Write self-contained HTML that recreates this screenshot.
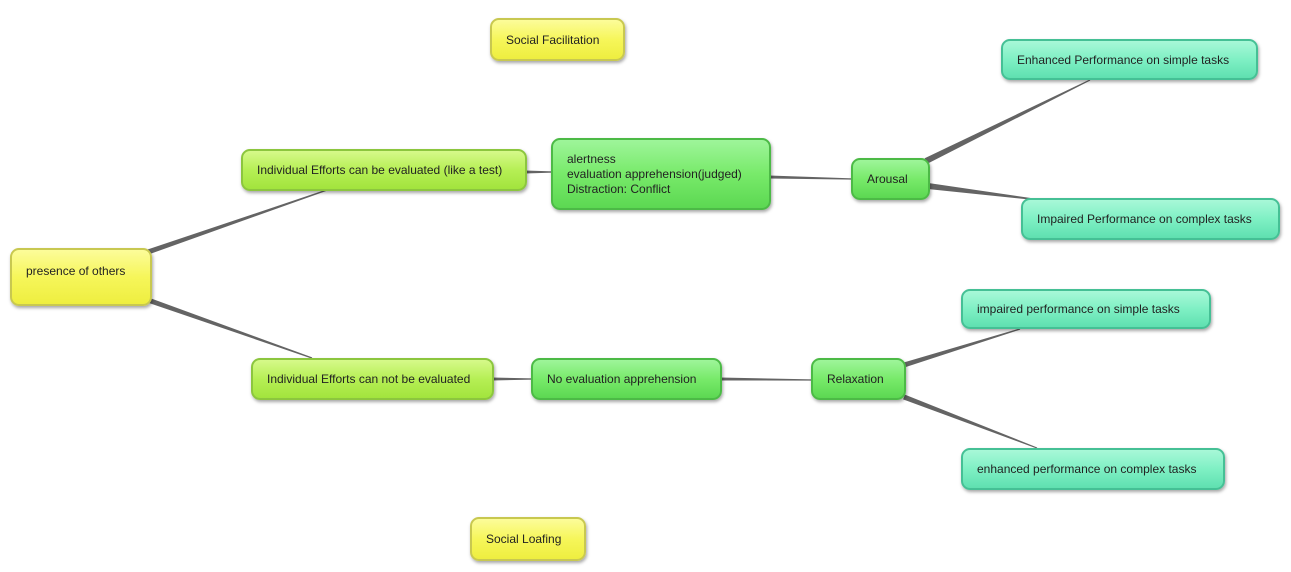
<!DOCTYPE html>
<html><head><meta charset="utf-8"><style>
body{margin:0;width:1291px;height:572px;background:#fff;position:relative;overflow:hidden;font-family:"Liberation Sans",sans-serif;}
.n{position:absolute;box-sizing:border-box;border-radius:9px;font-size:12px;color:#222;padding-left:14px;display:flex;align-items:center;box-shadow:1px 2px 3px rgba(0,0,0,0.35);}
.y{background:linear-gradient(#fcfc9a,#f6f65a 50%,#eeee40);border:2px solid #c8c850;}
.lg{background:linear-gradient(#d6f98a,#b6ef55 50%,#a2e43d);border:2px solid #8cc63e;}
.g{background:linear-gradient(#9ef59a,#78ea6a 50%,#5cd852);border:2px solid #4cba46;}
.t{background:linear-gradient(#a8f8d8,#7ff0c4 50%,#5fe0b0);border:2px solid #45c095;}
svg{position:absolute;left:0;top:0;}
</style></head><body>
<svg width="1291" height="572" id="s"></svg>
<div class="n y" style="left:490px;top:18px;width:135px;height:43px;">Social Facilitation</div>
<div class="n y" style="left:10px;top:248px;width:142px;height:58px;align-items:flex-start;padding-top:14px;">presence of others</div>
<div class="n lg" style="left:241px;top:149px;width:286px;height:42px;">Individual Efforts can be evaluated (like a test)</div>
<div class="n g" style="left:551px;top:138px;width:220px;height:72px;line-height:15px;">alertness<br>evaluation apprehension(judged)<br>Distraction: Conflict</div>
<div class="n g" style="left:851px;top:158px;width:79px;height:42px;">Arousal</div>
<div class="n t" style="left:1001px;top:39px;width:257px;height:41px;">Enhanced Performance on simple tasks</div>
<div class="n t" style="left:1021px;top:198px;width:259px;height:42px;">Impaired Performance on complex tasks</div>
<div class="n lg" style="left:251px;top:358px;width:243px;height:42px;">Individual Efforts can not be evaluated</div>
<div class="n g" style="left:531px;top:358px;width:191px;height:42px;">No evaluation apprehension</div>
<div class="n g" style="left:811px;top:358px;width:95px;height:42px;">Relaxation</div>
<div class="n t" style="left:961px;top:289px;width:250px;height:40px;">impaired performance on simple tasks</div>
<div class="n t" style="left:961px;top:448px;width:264px;height:42px;">enhanced performance on complex tasks</div>
<div class="n y" style="left:470px;top:517px;width:116px;height:44px;">Social Loafing</div>
<script>
var L=[[148,252,327,190,5],[148,300,312,358,5],[525,172,553,172,3],[769,177,853,179,3],[926,161,1090,80,6],[928,186,1040,200,6],[492,379,533,379,3],[720,379,813,380,3],[904,365,1020,329,5],[904,397,1037,448,5]];
var s=document.getElementById('s'),h='';
L.forEach(function(a){var dx=a[2]-a[0],dy=a[3]-a[1],d=Math.hypot(dx,dy),nx=-dy/d,ny=dx/d,w=a[4]/2,w2=0.6;
h+='<polygon fill="#646464" points="'+(a[0]+nx*w)+','+(a[1]+ny*w)+' '+(a[2]+nx*w2)+','+(a[3]+ny*w2)+' '+(a[2]-nx*w2)+','+(a[3]-ny*w2)+' '+(a[0]-nx*w)+','+(a[1]-ny*w)+'"/>';});
s.innerHTML=h;
</script>
</body></html>
